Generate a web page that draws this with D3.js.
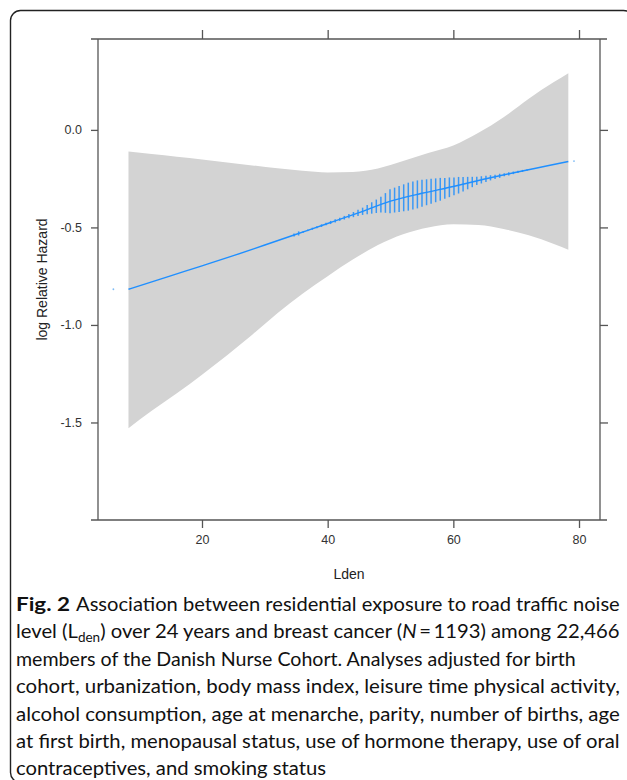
<!DOCTYPE html>
<html><head><meta charset="utf-8">
<script src="https://cdn.jsdelivr.net/npm/d3@7"></script>
<style>body{margin:0;background:#fff}</style>
</head><body><svg id="chart" width="627" height="780"></svg>
<script>
// ---- data ----
const fitLden  = [8.3, 15, 20, 25, 30, 35, 40, 45, 50, 55, 60, 65, 70, 75, 78.3];
const fitLogHR = [-0.817,-0.748,-0.697,-0.645,-0.590,-0.535,-0.480,-0.424,-0.365,-0.325,-0.290,-0.252,-0.217,-0.184,-0.162];

const bandLden  = [8.3, 12, 16, 20, 24, 28, 32, 36, 40, 44, 48, 52, 56, 60, 64, 68, 72, 76, 78.3];
const bandUpper = [-0.111,-0.124,-0.138,-0.152,-0.167,-0.182,-0.197,-0.210,-0.218,-0.216,-0.198,-0.160,-0.118,-0.080,-0.015,0.065,0.160,0.245,0.291];
const bandLower = [-1.529,-1.440,-1.350,-1.255,-1.155,-1.050,-0.940,-0.840,-0.750,-0.665,-0.590,-0.535,-0.500,-0.484,-0.487,-0.508,-0.540,-0.585,-0.615];

const spikeLden = [34.65,35.38,36.11,36.83,37.56,38.29,39.02,39.74,40.47,41.20,41.92,42.65,43.38,44.10,44.83,45.56,46.29,47.01,47.74,48.47,49.19,49.92,50.65,51.37,52.10,52.83,53.56,54.28,55.01,55.74,56.46,57.19,57.92,58.64,59.37,60.10,60.83,61.55,62.28,63.01,63.73,64.46,65.19,65.91,66.64,67.37,68.10,68.82,69.55,70.28,71.00,71.73];
const spikeFreq = [3,4,1.5,1.5,2,2,2.5,2.5,3,3,3,3.5,4,5,6,7,9,11,13,15,19,23,24,25,26,27,27,27,26,25,24,23,22,20,19,17,16,14,12,10,8,7,6,5,4,4,3,3,2.5,2,2,1.5];

const extremeLden  = [5.9, 79.2];
const extremeLogHR = [-0.817, -0.160];

const xTicks = [20, 40, 60, 80];
const yTicks = [0, -0.5, -1, -1.5];

const xLabel = "Lden";
const yLabel = "log Relative Hazard";

// ---- drawing ----
const svg = d3.select("#chart");
const L = 98, R = 600, T = 39, B = 520;
const x = d3.scaleLinear().domain([3.45, 83.34]).range([L, R]);
const y = d3.scaleLinear().domain([-2.0, 0.466]).range([B, T]);
const fitAt = d3.scaleLinear().domain(fitLden).range(fitLogHR);
const spikeH = d3.scaleLinear().domain([0, d3.max(spikeFreq)]).range([0, 28]);

// frame
svg.append("rect").attr("x", 10.5).attr("y", 10.5).attr("width", 623).attr("height", 772)
  .attr("rx", 10).attr("fill", "none").attr("stroke", "#222").attr("stroke-width", 1.4);

// confidence band
const band = bandLden.map((d, i) => ({l: d, u: bandUpper[i], lo: bandLower[i]}));
svg.append("path").datum(band)
  .attr("d", d3.area().x(d => x(d.l)).y0(d => y(d.lo)).y1(d => y(d.u)).curve(d3.curveMonotoneX))
  .attr("fill", "#d3d3d3");

// spikes (data density)
const spikes = spikeLden.map((d, i) => ({l: d, f: spikeFreq[i]}));
svg.append("g").selectAll("line").data(spikes).join("line")
  .attr("x1", d => x(d.l)).attr("x2", d => x(d.l))
  .attr("y1", d => y(fitAt(d.l)) - spikeH(d.f) / 2)
  .attr("y2", d => y(fitAt(d.l)) + spikeH(d.f) / 2)
  .attr("stroke", "#3a98f5").attr("stroke-width", 1.5);

// fitted line
const fit = fitLden.map((d, i) => ({l: d, v: fitLogHR[i]}));
svg.append("path").datum(fit)
  .attr("d", d3.line().x(d => x(d.l)).y(d => y(d.v)).curve(d3.curveMonotoneX))
  .attr("fill", "none").attr("stroke", "#1f8fff").attr("stroke-width", 1.4);

// extreme points
svg.append("g").selectAll("circle").data(extremeLden.map((d, i) => ({l: d, v: extremeLogHR[i]}))).join("circle")
  .attr("cx", d => x(d.l)).attr("cy", d => y(d.v)).attr("r", 0.9).attr("fill", "#7fbcf5");

// axes
const axisColor = "#555";
function styleAxis(g) {
  g.select(".domain").remove();
  g.selectAll(".tick line").attr("stroke", axisColor).attr("stroke-width", 1.3);
  g.selectAll(".tick text").attr("fill", "#333").style("font-family", "'Liberation Sans', Arial, sans-serif").style("font-size", "12.5px");
}
svg.append("g").attr("transform", `translate(0,${B})`)
  .call(d3.axisBottom(x).tickValues(xTicks).tickSize(8).tickPadding(7).tickFormat(d3.format("d")))
  .call(styleAxis);
svg.append("g").attr("transform", `translate(0,${T})`)
  .call(d3.axisTop(x).tickValues(xTicks).tickSize(9).tickFormat(""))
  .call(styleAxis);
svg.append("g").attr("transform", `translate(${L},0)`)
  .call(d3.axisLeft(y).tickValues(yTicks).tickSize(7).tickPadding(9).tickFormat(d => d.toFixed(1)))
  .call(styleAxis);
svg.append("g").attr("transform", `translate(${R},0)`)
  .call(d3.axisRight(y).tickValues(yTicks).tickSize(8).tickFormat(""))
  .call(styleAxis);

// box lines
const box = svg.append("g").attr("stroke", axisColor).attr("stroke-width", 1.3);
box.append("line").attr("x1", 91).attr("x2", 607).attr("y1", T).attr("y2", T);
box.append("line").attr("x1", 91).attr("x2", 607).attr("y1", B).attr("y2", B);
box.append("line").attr("x1", L).attr("x2", L).attr("y1", T).attr("y2", B);
box.append("line").attr("x1", R).attr("x2", R).attr("y1", T).attr("y2", B);

// axis titles
svg.append("text").attr("x", (L + R) / 2).attr("y", 579).attr("text-anchor", "middle")
  .style("font-family", "'Liberation Sans', Arial, sans-serif").style("font-size", "14px").attr("fill", "#222").text(xLabel);
svg.append("text").attr("transform", `translate(47,${(T + B) / 2}) rotate(-90)`).attr("text-anchor", "middle")
  .style("font-family", "'Liberation Sans', Arial, sans-serif").style("font-size", "14px").attr("fill", "#222").text(yLabel);

// caption
const cap = svg.append("g").style("font-family", "Lato, 'Open Sans', sans-serif").style("font-size", "19.5px").attr("fill", "#111");
function fitText(t, x0, x1, yb) {
  const w = t.node().getComputedTextLength();
  t.attr("x", 0).attr("transform", `translate(${x0},${yb}) scale(${(x1 - x0) / w},1)`);
}
const base0 = 611, lh = 27.4;
fitText(cap.append("text").attr("font-weight", "bold").text("Fig. 2"), 16, 70, base0);
fitText(cap.append("text").text("Association between residential exposure to road traffic noise"), 76, 620, base0);
const l2 = cap.append("text");
l2.append("tspan").text("level (L");
l2.append("tspan").attr("font-size", "13px").attr("dy", 4).text("den");
l2.append("tspan").attr("dy", -4).text(") over 24 years and breast cancer (");
l2.append("tspan").attr("font-style", "italic").text("N");
l2.append("tspan").text("\u2009=\u20091193) among 22,466");
fitText(l2, 16, 620, base0 + lh);
const rest = [
  ["members of the Danish Nurse Cohort. Analyses adjusted for birth", 576],
  ["cohort, urbanization, body mass index, leisure time physical activity,", 620],
  ["alcohol consumption, age at menarche, parity, number of births, age", 620],
  ["at first birth, menopausal status, use of hormone therapy, use of oral", 620],
  ["contraceptives, and smoking status", 326]
];
rest.forEach((r, i) => fitText(cap.append("text").text(r[0]), 16, r[1], base0 + lh * (i + 2)));
</script>
</body></html>
